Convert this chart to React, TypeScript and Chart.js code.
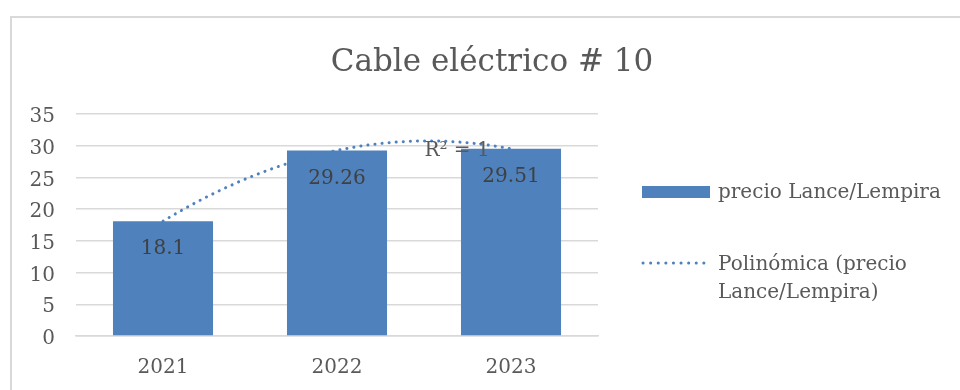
import React, { useEffect, useRef } from 'react';
import { Chart, registerables } from 'chart.js';

Chart.register(...registerables);

const TITLE = 'Cable eléctrico # 10';
const categories = ['2021', '2022', '2023'];
const prices = [18.1, 29.26, 29.51];
const seriesLabel = 'precio Lance/Lempira';
const trendLabelLines = ['Polinómica (precio', 'Lance/Lempira)'];
const rSquaredLabel = 'R² = 1';
const yMin = 0;
const yMax = 35;
const yStep = 5;

const FONT = "'DejaVu Serif', serif";
const TEXT = '#595959';
const BLUE = '#4f81bd';
const GRID = '#d9d9d9';

// Least-squares polynomial fit (order 2) of the series, like Excel's "Polinómica" trendline
function polyfit2(ys: number[]): number[] {
  const n = ys.length;
  const S = [0, 0, 0, 0, 0];
  const T = [0, 0, 0];
  for (let i = 0; i < n; i++) {
    const x = i + 1;
    for (let k = 0; k < 5; k++) S[k] += Math.pow(x, k);
    for (let k = 0; k < 3; k++) T[k] += Math.pow(x, k) * ys[i];
  }
  const A = [
    [S[0], S[1], S[2], T[0]],
    [S[1], S[2], S[3], T[1]],
    [S[2], S[3], S[4], T[2]],
  ];
  for (let c = 0; c < 3; c++) {
    let p = c;
    for (let r = c + 1; r < 3; r++) if (Math.abs(A[r][c]) > Math.abs(A[p][c])) p = r;
    [A[c], A[p]] = [A[p], A[c]];
    for (let r = 0; r < 3; r++) {
      if (r === c) continue;
      const f = A[r][c] / A[c][c];
      for (let k = c; k < 4; k++) A[r][k] -= f * A[c][k];
    }
  }
  return [A[0][3] / A[0][0], A[1][3] / A[1][1], A[2][3] / A[2][2]];
}

const decorPlugin = {
  id: 'decor',
  beforeDraw(chart: any) {
    const ctx = chart.ctx;
    ctx.save();
    ctx.strokeStyle = GRID;
    ctx.lineWidth = 2;
    ctx.strokeRect(11, 17, 1200, 800);
    ctx.fillStyle = TEXT;
    ctx.font = `31px ${FONT}`;
    ctx.textAlign = 'center';
    ctx.textBaseline = 'middle';
    ctx.fillText(TITLE, 492, 63);
    ctx.restore();
  },
  afterDatasetsDraw(chart: any) {
    const ctx = chart.ctx;
    const xs = chart.scales.x;
    const ys = chart.scales.y;
    const data = chart.data.datasets[0].data as number[];
    const [c0, c1, c2] = polyfit2(data);
    const f = (t: number) => c0 + c1 * (t + 1) + c2 * (t + 1) * (t + 1);
    ctx.save();
    ctx.strokeStyle = BLUE;
    ctx.lineWidth = 3;
    ctx.lineCap = 'round';
    ctx.setLineDash([0.1, 7]);
    ctx.beginPath();
    const last = data.length - 1;
    for (let i = 0; i <= 200; i++) {
      const t = (last * i) / 200;
      const px = xs.getPixelForValue(t);
      const py = ys.getPixelForValue(f(t));
      if (i === 0) ctx.moveTo(px, py);
      else ctx.lineTo(px, py);
    }
    ctx.stroke();
    ctx.setLineDash([]);

    // data labels
    const meta = chart.getDatasetMeta(0);
    ctx.fillStyle = '#404040';
    ctx.font = `20px ${FONT}`;
    ctx.textAlign = 'center';
    ctx.textBaseline = 'middle';
    meta.data.forEach((bar: any, i: number) => {
      ctx.fillText(String(data[i]), bar.x, bar.y + 28);
    });

    // R² label
    ctx.fillStyle = TEXT;
    ctx.fillText(rSquaredLabel, xs.getPixelForValue(1.69), ys.getPixelForValue(29.2));

    // legend
    ctx.fillStyle = BLUE;
    ctx.fillRect(642, 186, 68, 12);
    ctx.fillStyle = TEXT;
    ctx.textAlign = 'left';
    ctx.fillText(chart.data.datasets[0].label, 718, 193);
    ctx.strokeStyle = BLUE;
    ctx.lineWidth = 3;
    ctx.lineCap = 'round';
    ctx.setLineDash([0.1, 7.5]);
    ctx.beginPath();
    ctx.moveTo(643, 263);
    ctx.lineTo(710, 263);
    ctx.stroke();
    ctx.setLineDash([]);
    trendLabelLines.forEach((line, i) => ctx.fillText(line, 718, 265 + i * 28));
    ctx.restore();
  },
};

export default function App() {
  const ref = useRef<HTMLCanvasElement>(null);
  useEffect(() => {
    if (!ref.current) return;
    const chart = new Chart(ref.current, {
      type: 'bar',
      data: {
        labels: categories,
        datasets: [
          {
            label: seriesLabel,
            data: prices,
            backgroundColor: BLUE,
            barPercentage: 1,
            categoryPercentage: 0.575,
          },
        ],
      },
      options: {
        responsive: false,
        animation: false,
        layout: { padding: { left: 20, right: 362, top: 114, bottom: 0 } },
        plugins: { legend: { display: false }, title: { display: false }, tooltip: { enabled: false } },
        scales: {
          x: {
            grid: { display: false, drawTicks: false },
            border: { display: true, color: GRID, width: 1.5 },
            ticks: { color: TEXT, font: { family: FONT, size: 20 }, padding: 20 },
            afterFit: (s: any) => {
              s.height = 54;
            },
          },
          y: {
            min: yMin,
            max: yMax,
            grid: { color: GRID, lineWidth: 1.5, drawTicks: false },
            border: { display: false },
            ticks: { stepSize: yStep, color: TEXT, font: { family: FONT, size: 20 }, padding: 21, labelOffset: 3 },
            afterFit: (s: any) => {
              s.width = 56;
            },
          },
        },
      },
      plugins: [decorPlugin],
    });
    return () => chart.destroy();
  }, []);
  return (
    <div style={{ position: 'absolute', left: 0, top: 0, width: 960, height: 390 }}>
      <canvas ref={ref} width={960} height={390} style={{ display: 'block' }} />
    </div>
  );
}
